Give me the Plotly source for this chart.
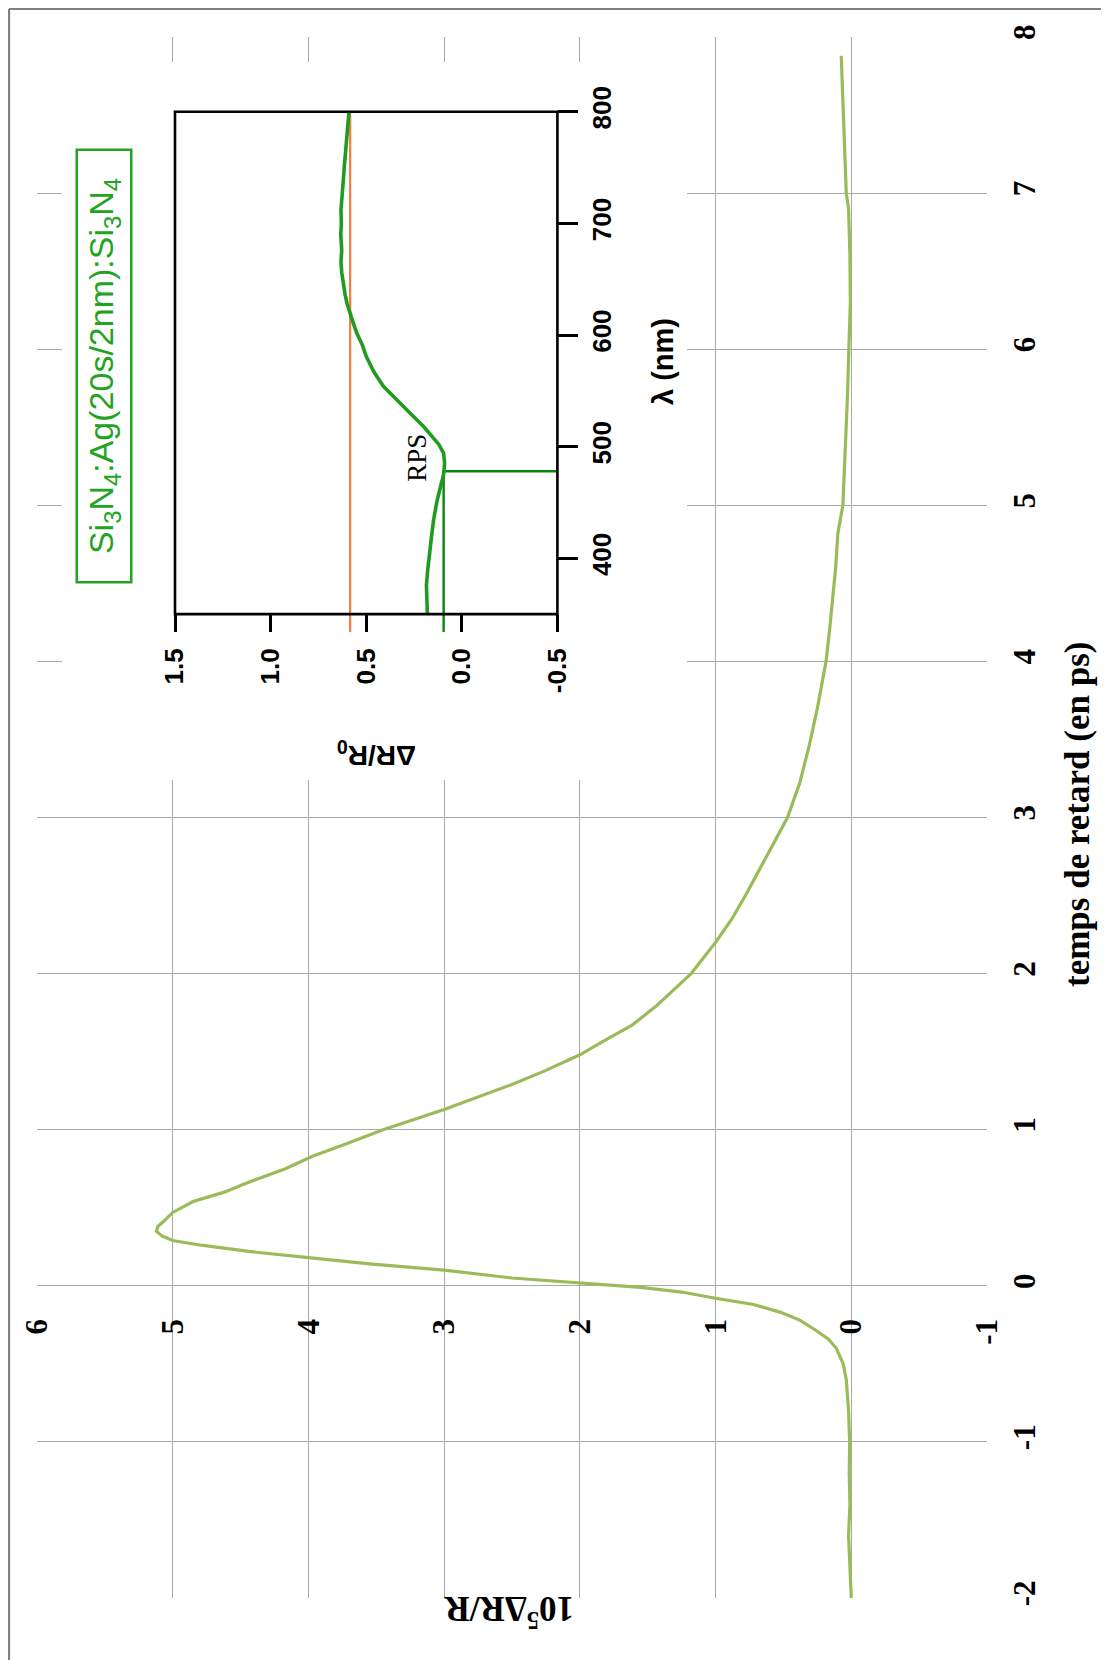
import plotly.graph_objects as go

W, H = 1109, 1660

# ---------------- data ----------------
# main curve: delay time (ps) vs 10^5 dR/R
delay_ps = [-2.0, -1.8, -1.6, -1.4, -1.2, -1.0, -0.8, -0.6, -0.5, -0.4, -0.34, -0.28, -0.22,
            -0.17, -0.12, -0.08, -0.04, -0.01, 0.02, 0.05, 0.10, 0.14, 0.18, 0.22, 0.26, 0.29,
            0.32, 0.35, 0.38, 0.41, 0.47, 0.54, 0.60, 0.66, 0.75, 0.83, 0.91, 1.0, 1.13, 1.2,
            1.29, 1.38, 1.48, 1.58, 1.67, 1.79, 1.9, 2.0, 2.2, 2.35, 2.5, 2.63, 2.8, 3.0, 3.22,
            3.46, 3.7, 4.0, 4.2, 4.4, 4.6, 4.82, 5.0, 5.25, 5.46, 5.7, 6.0, 6.3, 6.6, 6.9, 7.0,
            7.3, 7.6, 7.88]
dR_R = [0.0, 0.01, 0.02, 0.01, 0.015, 0.012, 0.02, 0.037, 0.06, 0.11, 0.17, 0.27, 0.38,
        0.52, 0.72, 1.0, 1.25, 1.55, 2.0, 2.5, 3.0, 3.55, 4.0, 4.44, 4.79, 5.0,
        5.08, 5.12, 5.11, 5.07, 5.0, 4.85, 4.62, 4.45, 4.17, 3.97, 3.72, 3.45, 3.0, 2.78,
        2.5, 2.25, 2.0, 1.8, 1.615, 1.44, 1.3, 1.18, 1.0, 0.88, 0.78, 0.70, 0.59, 0.47, 0.38,
        0.31, 0.25, 0.186, 0.16, 0.136, 0.115, 0.099, 0.062, 0.05, 0.037, 0.028, 0.018, 0.007,
        0.01, 0.02, 0.037, 0.05, 0.065, 0.074]

value_ticks = [6, 5, 4, 3, 2, 1, 0, -1]
value_ticktext = ["6", "5", "4", "3", "2", "1", "0", "-1"]
delay_ticks = [-2, -1, 0, 1, 2, 3, 4, 5, 6, 7, 8]
delay_ticktext = ["-2", "-1", "0", "1", "2", "3", "4", "5", "6", "7", "8"]

# inset: spectrum dR/R0 vs wavelength
wavelength_nm = [350, 360, 376, 390, 400, 417, 434, 451, 465, 475, 485, 494, 502, 508, 518,
                 530, 542, 554, 567, 581, 591, 602, 612, 619, 628, 636, 646, 656, 666, 676,
                 690, 700, 712, 725, 738, 750, 759, 770, 782, 793, 800]
dR_R0 = [0.18, 0.182, 0.185, 0.178, 0.17, 0.16, 0.148, 0.13, 0.11, 0.095, 0.09, 0.095, 0.12,
         0.148, 0.2, 0.27, 0.34, 0.41, 0.46, 0.50, 0.52, 0.55, 0.57, 0.584, 0.60, 0.61, 0.62,
         0.628, 0.632, 0.628, 0.633, 0.63, 0.632, 0.628, 0.62, 0.615, 0.61, 0.605, 0.6, 0.595,
         0.59]
orange_level = 0.584
orange_span_nm = [334, 800]
rps_level = 0.095
rps_wavelength = 478
rps_span_nm = [334, 478]
inset_x_ticks = [1.5, 1.0, 0.5, 0.0, -0.5]
inset_x_ticktext = ["1.5", "1.0", "0.5", "0.0", "-0.5"]
inset_y_ticks = [400, 500, 600, 700, 800]
inset_x_frame = [1.5, -0.5]
inset_y_frame = [350, 800]

# ---------------- geometry helpers (page pixels -> paper) ----------------
OFF = 8  # the page body offsets the figure by 8 px

def px(x):
    return (x - OFF) / W

def py(y):
    return 1 - (y - OFF) / H

# inset scales (pixel mapping of the inset frame)
IX0, IX_PER = 175.0, 191.2      # x pixel of dR/R0 = 1.5, px per unit
IY0, IY_PER = 111.7, 1.1165     # y pixel of 800 nm, px per nm

def inset_val(xpix):
    return 1.5 - (xpix - IX0) / IX_PER

def inset_lam(ypix):
    return 800 - (ypix - IY0) / IY_PER

# inset subplot covers the white area that hides the main grid
BOX_L, BOX_R, BOX_T, BOX_B = 62, 687, 62, 780

SERIF = "Liberation Serif"
SANS = "Liberation Sans"

fig = go.Figure()

fig.add_trace(go.Scatter(x=dR_R, y=delay_ps, mode="lines",
                         line=dict(color="#9bbb59", width=3.2),
                         xaxis="x", yaxis="y", showlegend=False))

fig.add_trace(go.Scatter(x=[orange_level, orange_level], y=orange_span_nm, mode="lines",
                         line=dict(color="#f47d3a", width=2.2),
                         xaxis="x2", yaxis="y2", showlegend=False))
fig.add_trace(go.Scatter(x=[rps_level, rps_level, inset_x_ticks[-1]],
                         y=[rps_span_nm[0], rps_span_nm[1], rps_wavelength], mode="lines",
                         line=dict(color="#0b850b", width=2.4),
                         xaxis="x2", yaxis="y2", showlegend=False))
fig.add_trace(go.Scatter(x=dR_R0, y=wavelength_nm, mode="lines",
                         line=dict(color="#1f9c1f", width=3.6),
                         xaxis="x2", yaxis="y2", showlegend=False))

grid_col = "#a9a9a9"
fig.update_layout(
    template="none",
    width=W, height=H, autosize=False,
    margin=dict(l=0, r=0, t=0, b=0, pad=0, autoexpand=False),
    paper_bgcolor="white", plot_bgcolor="white",
    xaxis=dict(domain=[px(37), px(987)], range=[6, -1], tickvals=value_ticks,
               ticktext=value_ticktext, showgrid=True, gridcolor=grid_col, gridwidth=1.2,
               zeroline=False, showline=False, ticks="", anchor="free", automargin=False,
               position=py(1285.8), side="bottom", tickangle=-90,
               ticklabelstandoff=26,
               tickfont=dict(family=SERIF, size=31, color="black", weight="bold")),
    yaxis=dict(domain=[py(1598), py(37)], range=[-2, 8], tickvals=delay_ticks,
               ticktext=delay_ticktext, showgrid=True, gridcolor=grid_col, gridwidth=1.2,
               zeroline=False, showline=False, ticks="", side="right", anchor="x",
               automargin=False, tickangle=-90, ticklabelstandoff=16,
               tickfont=dict(family=SERIF, size=31, color="black", weight="bold")),
    xaxis2=dict(domain=[px(BOX_L), px(BOX_R)], range=[inset_val(BOX_L), inset_val(BOX_R)],
                tickvals=inset_x_ticks, ticktext=inset_x_ticktext,
                showgrid=False, zeroline=False, showline=False, automargin=False,
                ticks="outside", ticklen=17, tickwidth=2.5, tickcolor="black",
                anchor="free", position=py(614), side="bottom", tickangle=-90,
                ticklabelstandoff=6,
                tickfont=dict(family=SANS, size=26, color="black", weight="bold")),
    yaxis2=dict(domain=[py(BOX_B), py(BOX_T)], range=[inset_lam(BOX_B), inset_lam(BOX_T)],
                tickvals=inset_y_ticks,
                showgrid=False, zeroline=False, showline=False, automargin=False,
                ticks="outside", ticklen=20, tickwidth=2.5, tickcolor="black",
                anchor="free", position=px(557), side="right", tickangle=-90,
                ticklabelstandoff=2,
                tickfont=dict(family=SANS, size=26, color="black", weight="bold")),
)

shapes = [
    # inset frame
    dict(type="rect", xref="x2", yref="y2", x0=inset_x_frame[0], x1=inset_x_frame[1],
         y0=inset_y_frame[0], y1=inset_y_frame[1],
         line=dict(color="black", width=2.6), fillcolor="rgba(0,0,0,0)", layer="above"),
    # outer page border (top and left)
    dict(type="line", xref="paper", yref="paper", x0=px(9), x1=1.01, y0=py(9), y1=py(9),
         line=dict(color="#7f7f7f", width=2.2)),
    dict(type="line", xref="paper", yref="paper", x0=px(9), x1=px(9), y0=py(9), y1=-0.01,
         line=dict(color="#7f7f7f", width=2.2)),
]
fig.update_layout(shapes=shapes)

C = dict(xanchor="center", yanchor="middle", showarrow=False)
annotations = [
    dict(text="temps de retard (en ps)", x=px(1078), y=py(815), xref="paper", yref="paper",
         textangle=-90, font=dict(family=SERIF, size=35, color="black", weight="bold"), **C),
    dict(text="10<sup>5</sup>ΔR/R", x=px(509), y=py(1612), xref="paper", yref="paper",
         textangle=180, font=dict(family=SERIF, size=35, color="black", weight="bold"), **C),
    dict(text="λ (nm)", x=px(663), y=py(362), xref="paper", yref="paper",
         textangle=-90, font=dict(family=SANS, size=29, color="black", weight="bold"), **C),
    dict(text="ΔR/R<sub>0</sub>", x=px(377), y=py(754), xref="paper", yref="paper",
         textangle=180, font=dict(family=SANS, size=28, color="black", weight="bold"), **C),
    dict(text="RPS", x=0.235, y=490, xref="x2", yref="y2", textangle=-90,
         font=dict(family=SERIF, size=27, color="black"), **C),
    dict(text="Si<sub>3</sub>N<sub>4</sub>:Ag(20s/2nm):Si<sub>3</sub>N<sub>4</sub>",
         x=px(103.5), y=py(366), xref="paper", yref="paper",
         textangle=-90, width=430, height=52, bordercolor="#22a322", borderwidth=2.5,
         borderpad=0, bgcolor="white",
         font=dict(family=SANS, size=34, color="#22a322"), **C),
]
fig.update_layout(annotations=annotations)

fig.write_html("out.html")
